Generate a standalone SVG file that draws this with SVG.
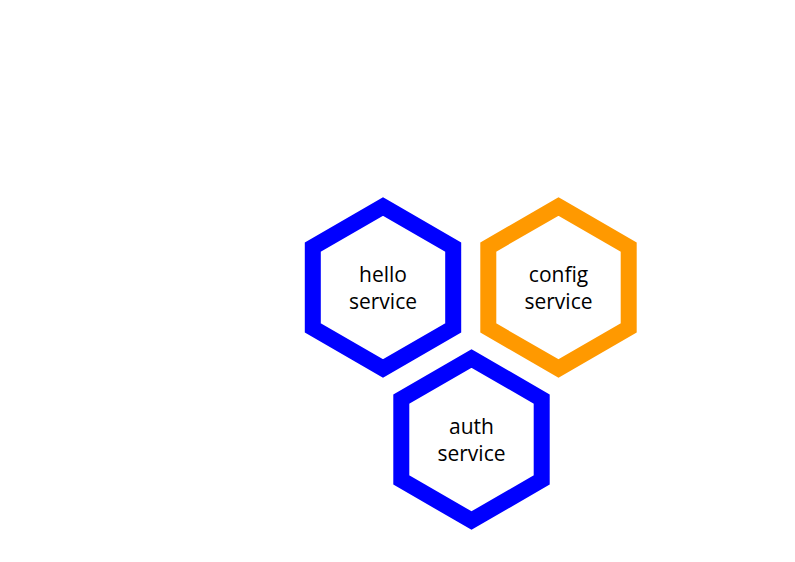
<svg xmlns="http://www.w3.org/2000/svg" width="795" height="562" viewBox="0 0 795 562">
<style>
.hex{fill:#fff;stroke-width:16;stroke-linejoin:miter}
.blue{stroke:#0000ff}
.orange{stroke:#ff9900}
.t{font-family:"Open Sans",sans-serif;font-size:21px;fill:#000;text-anchor:middle}
</style>
<rect width="795" height="562" fill="#fff"/>
<g id="connectors"></g>
<g id="hello">
<polygon class="hex blue" points="383,206.5 453.2,247 453.2,328 383,368.5 312.8,328 312.8,247"/>
<text class="t" x="383" y="282">hello</text>
<text class="t" x="383" y="309">service</text>
</g>
<g id="config">
<polygon class="hex orange" points="558.5,206.5 628.7,247 628.7,328 558.5,368.5 488.3,328 488.3,247"/>
<text class="t" x="558.5" y="282">config</text>
<text class="t" x="558.5" y="309">service</text>
</g>
<g id="auth">
<polygon class="hex blue" points="471.5,358.5 541.7,399 541.7,480 471.5,520.5 401.3,480 401.3,399"/>
<text class="t" x="471.5" y="434">auth</text>
<text class="t" x="471.5" y="461">service</text>
</g>
</svg>
